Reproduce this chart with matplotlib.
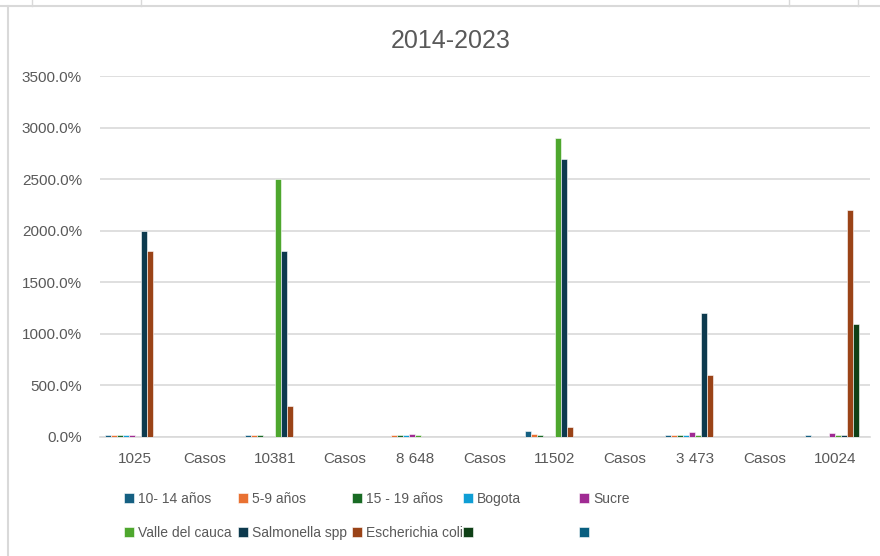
import numpy as np
import matplotlib
matplotlib.use('Agg')
import matplotlib.pyplot as plt
from matplotlib.lines import Line2D
from matplotlib.ticker import FuncFormatter

plt.rcParams['font.family'] = ['Liberation Sans', 'DejaVu Sans']

# categories on the x axis
categories = ['1025', 'Casos', '10381', 'Casos', '8 648', 'Casos',
              '11502', 'Casos', '3 473', 'Casos', '10024']

# series values (percent)
edad_10_14 = [15, 0, 15, 0, 0, 0, 60, 0, 20, 0, 15]
edad_5_9 = [15, 0, 15, 0, 15, 0, 25, 0, 20, 0, 0]
edad_15_19 = [15, 0, 15, 0, 15, 0, 15, 0, 20, 0, 0]
bogota = [15, 0, 0, 0, 15, 0, 0, 0, 20, 0, 0]
sucre = [15, 0, 0, 0, 25, 0, 0, 0, 50, 0, 40]
valle = [0, 0, 2500, 0, 15, 0, 2900, 0, 20, 0, 20]
salmonella = [2000, 0, 1800, 0, 0, 0, 2700, 0, 1200, 0, 15]
escherichia = [1800, 0, 300, 0, 0, 0, 100, 0, 600, 0, 2200]
serie_9 = [0, 0, 0, 0, 0, 0, 0, 0, 0, 0, 1100]
serie_10 = [0, 0, 0, 0, 0, 0, 0, 0, 0, 0, 0]

series = [edad_10_14, edad_5_9, edad_15_19, bogota, sucre,
          valle, salmonella, escherichia, serie_9, serie_10]
labels = ['10- 14 años', '5-9 años', '15 - 19 años', 'Bogota', 'Sucre',
          'Valle del cauca', 'Salmonella spp', 'Escherichia coli', '', '']
colors = ['#156082', '#E97132', '#196B24', '#0F9ED5', '#A02B93',
          '#4EA72E', '#0D3A4E', '#9A4317', '#0F4016', '#095F80']

W, H = 880, 556
fig = plt.figure(figsize=(W / 100, H / 100), dpi=100)
ax = fig.add_axes([100 / W, 1 - 437 / H, 770 / W, 361 / H])

x = np.arange(len(categories))
bw = 0.087
handles = []
for i, vals in enumerate(series):
    b = ax.bar(x + (i - 4.5) * bw, vals, bw, color=colors[i],
               edgecolor='white', linewidth=0.4, label=labels[i], zorder=3)
    handles.append(b)

ax.set_xlim(-0.5, len(categories) - 0.5)
ax.set_ylim(0, 3500)
ax.set_yticks(np.arange(0, 3501, 500))
ax.yaxis.set_major_formatter(FuncFormatter(lambda v, p: f'{v:.1f}%'))
ax.set_xticks(x)
ax.set_xticklabels(categories)
ax.grid(axis='y', color='#D9D9D9', linewidth=1.2, zorder=0)
for s in ['top', 'right', 'left']:
    ax.spines[s].set_visible(False)
ax.spines['bottom'].set_color('#D9D9D9')
ax.spines['bottom'].set_linewidth(1.2)
ax.tick_params(axis='y', length=0, pad=13, labelsize=11, labelcolor='#595959')
ax.tick_params(axis='x', length=0, pad=11, labelsize=11, labelcolor='#595959')

fig.text(451 / W, 1 - 41 / H, '2014-2023', ha='center', va='center',
         fontsize=18, color='#595959')

# legend: 5 columns, 2 rows
col_x = [124, 238, 352, 463, 579]
for j in range(5):
    fig.legend([handles[j], handles[j + 5]], [labels[j], labels[j + 5]],
               loc='upper left', bbox_to_anchor=(col_x[j] / W, 1 - 492 / H),
               frameon=False, fontsize=10, handlelength=0.7, handleheight=0.7,
               handletextpad=0.3, labelspacing=1.45, borderpad=0,
               borderaxespad=0, labelcolor='#595959')

# sheet borders around the chart
gray = '#D9D9D9'
fig.add_artist(Line2D([0, 1], [1 - 6 / H, 1 - 6 / H], color=gray, lw=1.5))
fig.add_artist(Line2D([8 / W, 8 / W], [0, 1 - 6 / H], color=gray, lw=1.5))
for px in [32, 141, 789, 858]:
    fig.add_artist(Line2D([px / W, px / W], [1 - 6 / H, 1], color=gray, lw=1))

fig.savefig('out.png', dpi=100)
